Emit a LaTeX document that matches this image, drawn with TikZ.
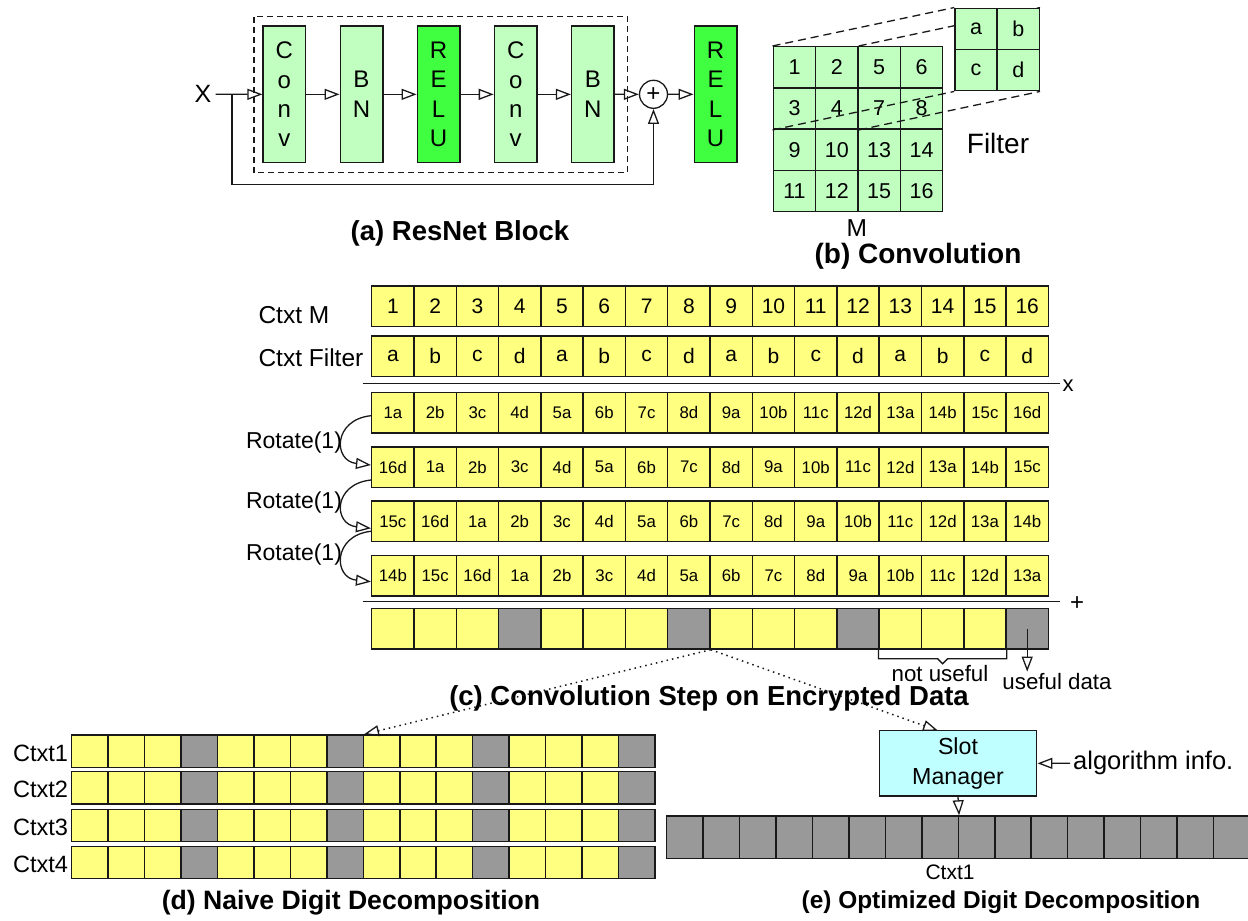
\documentclass[tikz,border=0pt]{standalone}
\usepackage{fontspec}
\setmainfont{Liberation Sans}
\usetikzlibrary{arrows.meta,calc}

\definecolor{ink}{RGB}{25,25,25}
\definecolor{lgreen}{RGB}{192,255,192}
\definecolor{dgreen}{RGB}{64,255,64}
\definecolor{slotyellow}{RGB}{255,255,128}
\definecolor{slotgray}{RGB}{153,153,153}
\definecolor{lcyan}{RGB}{192,255,255}

\newcommand{\fsz}[2]{\fontsize{#1}{#2}\selectfont}

\pgfdeclarelayer{front}
\pgfsetlayers{main,front}

\tikzset{
  layerbox/.style={draw=ink, line width=1.5pt, minimum width=42.5pt, minimum height=136.7pt,
    inner sep=0pt, align=center, font=\fsz{24pt}{29.4pt}},
  convbox/.style={layerbox, fill=lgreen},
  relubox/.style={layerbox, fill=dgreen},
  flow/.style={draw=ink, line width=1.3pt, -{Triangle[open, length=15pt, width=11pt]}},
  blockframe/.style={draw=ink, line width=1.3pt, dash pattern=on 6pt off 4pt},
  projline/.style={draw=ink, line width=1.3pt, dash pattern=on 8pt off 5pt},
  gridcell/.style={draw=ink, fill=lgreen, line width=1.5pt, minimum width=42.35pt,
    minimum height=41.25pt, inner sep=0pt, font=\fsz{21.5pt}{21.5pt}},
  slotcell/.style={draw=ink, fill=slotyellow, line width=1.5pt, minimum width=42.29pt,
    minimum height=40.5pt, inner sep=0pt, font=\fsz{21pt}{21pt}},
  prodcell/.style={slotcell, font=\fsz{16.8pt}{16.8pt}},
  thincell/.style={draw=ink, line width=1.5pt, minimum width=36.45pt, minimum height=32.3pt, inner sep=0pt},
  widecell/.style={draw=ink, fill=slotgray, line width=1.5pt, minimum width=36.45pt, minimum height=42.3pt, inner sep=0pt},
  rowlabel/.style={inner sep=0pt, font=\fsz{24.5pt}{24.5pt}},
  rulebar/.style={draw=ink, line width=1.5pt},
  dotflow/.style={draw=ink, line width=1.5pt, dash pattern=on 1.5pt off 4pt,
    -{Triangle[open, length=15pt, width=11pt, line width=1.3pt, sep=0pt]}},
  caption/.style={inner sep=0pt, font=\fsz{27.5pt}{27.5pt}\bfseries},
  plain/.style={inner sep=0pt, font=\fsz{22.3pt}{22.3pt}},
}

\newcommand{\prodrow}[3]{%
  \foreach \v [count=\i] in {#3} {
    \node[prodcell] (#1\i) at ({371.7+42.29*(\i-0.5)}, #2) {\v};
  }}

\begin{document}
\begin{tikzpicture}[x=1pt,y=-1pt]
\path[use as bounding box] (0,0) rectangle (1248,921);

% ---------------- (a) ResNet block ----------------
\draw[blockframe] (254,16.7) rectangle (627.7,172.7);
\node[convbox] (conv1) at (284.4,94.35) {C\\o\\n\\v};
\node[convbox] (bn1)   at (361.5,94.35) {B\\N};
\node[relubox] (relu1) at (438.6,94.35) {R\\E\\L\\U};
\node[convbox] (conv2) at (515.7,94.35) {C\\o\\n\\v};
\node[convbox] (bn2)   at (592.85,94.35) {B\\N};
\node[draw=ink, circle, line width=1.3pt, minimum size=28pt, inner sep=0pt,
      font=\fsz{24pt}{24pt}] (plus) at (653.5,94.3) {+};
\node[relubox] (relu2) at (715.5,94.35) {R\\E\\L\\U};
\node[inner sep=4pt, font=\fsz{25pt}{25pt}] (xin) at (203,94.3) {X};

\coordinate (split) at (232,94.3);
\coordinate (loop) at (232,184.3);
\draw[flow] (xin) -- (conv1);
\draw[flow] (conv1) -- (bn1);
\draw[flow] (bn1) -- (relu1);
\draw[flow] (relu1) -- (conv2);
\draw[flow] (conv2) -- (bn2);
\draw[flow] (bn2) -- (plus);
\draw[flow] (plus) -- (relu2);
\draw[flow] (split) -- (loop) -| (plus.south);

\node[caption] (capa) at (460,233) {(a) ResNet Block};

% ---------------- (b) Convolution ----------------
\foreach \v [count=\k from 0] in {1,2,5,6,3,4,7,8,9,10,13,14,11,12,15,16} {
  \pgfmathtruncatemacro{\gr}{int(\k/4)}
  \pgfmathtruncatemacro{\gc}{mod(\k,4)}
  \node[gridcell] (g\gr\gc) at ({773.3+42.35*(\gc+0.5)}, {46.7+41.25*(\gr+0.5)}) {\v};
}
\begin{pgfonlayer}{front}
  \foreach \v [count=\k from 0] in {a,b,c,d} {
    \pgfmathtruncatemacro{\gr}{int(\k/2)}
    \pgfmathtruncatemacro{\gc}{mod(\k,2)}
    \node[gridcell, minimum width=42.15pt, minimum height=41.2pt] (f\gr\gc)
      at ({955+42.15*(\gc+0.5)}, {8.3+41.2*(\gr+0.5)}) {\v};
  }
\end{pgfonlayer}
\draw[projline] (g00.north west) -- (f00.north west);
\draw[projline] (g01.north east) -- (f01.north east);
\draw[projline] (g10.south west) -- (f10.south west);
\draw[projline] (g11.south east) -- (f11.south east);

\node[inner sep=0pt, font=\fsz{28pt}{28pt}] (filterlab) at (998,143) {Filter};
\node[inner sep=0pt, font=\fsz{24.5pt}{24.5pt}] (mlab) at (856.7,228.5) {M};
\node[caption, font=\fsz{28pt}{28pt}\bfseries] (capb) at (918,256) {(b) Convolution};

% ---------------- (c) Convolution on encrypted slots ----------------
\node[rowlabel, anchor=west] (lm) at (258.3,315) {Ctxt M};
\node[rowlabel, anchor=west] (lf) at (258.3,357.3) {Ctxt Filter};

\foreach \v [count=\i] in {1,...,16} {
  \node[slotcell] (cm\i) at ({371.7+42.29*(\i-0.5)}, 306.3) {\v};
}
\foreach \v [count=\i] in {a,b,c,d,a,b,c,d,a,b,c,d,a,b,c,d} {
  \node[slotcell] (cf\i) at ({371.7+42.29*(\i-0.5)}, 356.3) {\v};
}

\draw[rulebar] (362.7,383.3) -- (1060,383.3);
\node[inner sep=0pt, font=\fsz{22pt}{22pt}] (times) at (1068,386) {x};

\prodrow{ra}{412.7}{1a,2b,3c,4d,5a,6b,7c,8d,9a,10b,11c,12d,13a,14b,15c,16d}
\prodrow{rb}{467}{16d,1a,2b,3c,4d,5a,6b,7c,8d,9a,10b,11c,12d,13a,14b,15c}
\prodrow{rc}{521.3}{15c,16d,1a,2b,3c,4d,5a,6b,7c,8d,9a,10b,11c,12d,13a,14b}
\prodrow{rd}{575.7}{14b,15c,16d,1a,2b,3c,4d,5a,6b,7c,8d,9a,10b,11c,12d,13a}

\node[inner sep=0pt, font=\fsz{23pt}{23pt}] (rot1) at (294,442.3) {Rotate(1)};
\node[inner sep=0pt, font=\fsz{23pt}{23pt}] (rot2) at (294,502.3) {Rotate(1)};
\node[inner sep=0pt, font=\fsz{23pt}{23pt}] (rot3) at (294,555) {Rotate(1)};

\draw[flow] ($(ra1.west)+(0,3)$) .. controls +(-38,4) and +(-38,-4) .. ($(rb1.west)+(0,-2)$);
\draw[flow] ($(rb1.west)+(0,13)$) .. controls +(-38,4) and +(-38,-4) .. ($(rc1.west)+(0,7)$);
\draw[flow] ($(rc1.west)+(0,10)$) .. controls +(-38,4) and +(-38,-4) .. ($(rd1.west)+(0,6)$);

\draw[rulebar] (362.7,601.7) -- (1060,601.7);
\node[inner sep=0pt, font=\fsz{24pt}{24pt}] (sum) at (1077,604) {+};

\foreach \i in {1,...,16} {
  \pgfmathtruncatemacro{\mq}{mod(\i,4)}
  \ifnum\mq=0 \def\cellfill{slotgray}\else\def\cellfill{slotyellow}\fi
  \node[slotcell, fill=\cellfill] (s\i) at ({371.7+42.29*(\i-0.5)}, 628.7) {};
}

% bracket under the three partial sums
\draw[draw=ink, line width=1.3pt] (s13.south west) -- ++(0,9)
  -- ($(s14.south)+(-5,9)$) -- ($(s14.south)+(0,14)$) -- ($(s14.south)+(5,9)$)
  -- ($(s15.south east)+(0,9)$) -- (s15.south east);
\node[plain] (nu) at (940,673.3) {not useful};
\node[plain, inner sep=2pt] (ud) at (1057,682) {useful data};
\draw[flow] (s16.center) -- (s16.center |- ud.north);

\node[caption] (capc) at (709,698) {(c) Convolution Step on Encrypted Data};

% ---------------- (d) Naive digit decomposition ----------------
\foreach \r/\yc in {1/751.15, 2/787.85, 3/825.5, 4/862.5} {
  \node[inner sep=0pt, anchor=east, font=\fsz{23.6pt}{23.6pt}] (dl\r) at (68.3,\yc+2) {Ctxt\r};
  \foreach \i in {1,...,16} {
    \pgfmathtruncatemacro{\mq}{mod(\i,4)}
    \ifnum\mq=0 \def\cellfill{slotgray}\else\def\cellfill{slotyellow}\fi
    \node[thincell, fill=\cellfill] (d\r c\i) at ({71.7+36.45*(\i-0.5)}, \yc) {};
  }
}
\node[caption, font=\fsz{26.6pt}{26.6pt}\bfseries] (capd) at (351,903) {(d) Naive Digit Decomposition};

% ---------------- (e) Optimized digit decomposition ----------------
\node[draw=ink, fill=lcyan, line width=1.5pt, minimum width=157.4pt, minimum height=65.3pt,
      inner sep=0pt, align=center, font=\fsz{23.2pt}{29.3pt}] (slot) at (958,763.35) {Slot\\Manager};
\foreach \i in {1,...,16} {
  \node[widecell] (e\i) at ({666.7+36.45*(\i-0.5)}, 837.15) {};
}
\node[inner sep=0pt, font=\fsz{21pt}{21pt}] (ectxt) at (950,872) {Ctxt1};
\node[inner sep=3pt, anchor=west, font=\fsz{25.5pt}{25.5pt}] (alg) at (1070,763.3) {algorithm info.};
\draw[flow] (alg.west) -- (slot.east);
\draw[flow] (slot.south) -- (e8.north east);

\coordinate (slotin) at (938,730.7);
\draw[dotflow] (s8.south east) -- (d1c8.north east);
\draw[dotflow] (s8.south east) -- (slotin);

\node[caption, font=\fsz{24.4pt}{24.4pt}\bfseries] (cape) at (1001,902) {(e) Optimized Digit Decomposition};
\end{tikzpicture}
\end{document}
